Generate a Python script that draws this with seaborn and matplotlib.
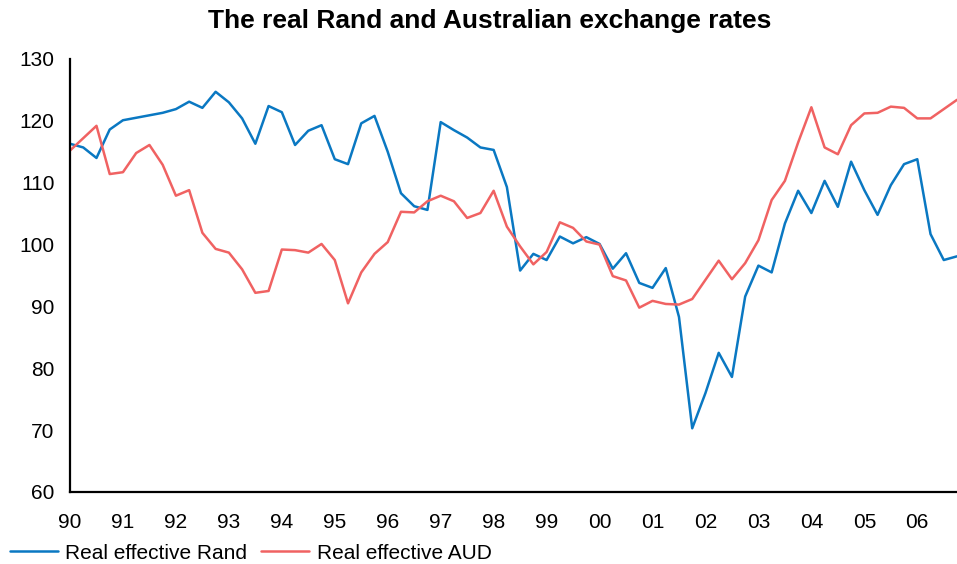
import numpy as np
import pandas as pd
import matplotlib
matplotlib.use("Agg")
import matplotlib.pyplot as plt
import seaborn as sns

# Quarterly observations, 1990 Q1 to 2006 Q4
start_year = 1990
n_quarters = 68

rand_values = [
    116.3, 115.7, 114.0, 118.6, 120.1, 120.5, 120.9, 121.3,
    121.9, 123.1, 122.1, 124.7, 123.0, 120.4, 116.3, 122.4,
    121.4, 116.1, 118.4, 119.3, 113.8, 113.0, 119.6, 120.8,
    115.0, 108.3, 106.2, 105.6, 119.8, 118.5, 117.3, 115.7,
    115.3, 109.3, 95.8, 98.5, 97.5, 101.3, 100.2, 101.2,
    100.1, 96.1, 98.6, 93.8, 93.0, 96.2, 88.3, 70.3,
    76.0, 82.5, 78.6, 91.6, 96.6, 95.5, 103.4, 108.7,
    105.1, 110.3, 106.1, 113.4, 108.8, 104.8, 109.6, 113.0,
    113.8, 101.7, 97.5, 98.1,
]

aud_values = [
    115.2, 117.2, 119.2, 111.4, 111.7, 114.8, 116.1, 112.9,
    107.9, 108.8, 101.9, 99.3, 98.7, 96.0, 92.2, 92.5,
    99.2, 99.1, 98.7, 100.1, 97.5, 90.5, 95.5, 98.5,
    100.4, 105.3, 105.2, 107.0, 107.9, 107.0, 104.3, 105.1,
    108.7, 102.9, 99.7, 96.8, 98.8, 103.6, 102.7, 100.5,
    100.0, 94.9, 94.2, 89.8, 90.9, 90.4, 90.3, 91.2,
    94.3, 97.4, 94.4, 97.0, 100.7, 107.2, 110.3, 116.5,
    122.2, 115.7, 114.6, 119.3, 121.2, 121.3, 122.3, 122.1,
    120.4, 120.4, 121.9, 123.4,
]

series_names = ["Real effective Rand", "Real effective AUD"]
series_colors = ["#0A78C2", "#F06262"]
year_labels = ["90", "91", "92", "93", "94", "95", "96", "97", "98",
               "99", "00", "01", "02", "03", "04", "05", "06"]
y_ticks = [60, 70, 80, 90, 100, 110, 120, 130]

time = start_year + np.arange(n_quarters) / 4.0
df = pd.DataFrame({
    "time": np.concatenate([time, time]),
    "value": rand_values + aud_values,
    "series": [series_names[0]] * n_quarters + [series_names[1]] * n_quarters,
})

sns.set_style("white")
plt.rcParams["font.family"] = ["Liberation Sans", "DejaVu Sans"]
plt.rcParams["text.color"] = "black"

fig = plt.figure(figsize=(9.57, 5.64), dpi=100)
ax = fig.add_axes([70 / 957, 1 - 492 / 564, (957 - 70) / 957, (492 - 59) / 564])

line_w = 1.8
sns.lineplot(data=df, x="time", y="value", hue="series",
             palette=dict(zip(series_names, series_colors)),
             linewidth=line_w, ax=ax, legend=False)

ax.set_xlim(start_year, start_year + (n_quarters - 1) / 4.0)
ax.set_ylim(60, 130)
ax.set_xticks(start_year + np.arange(len(year_labels)))
ax.set_xticklabels(year_labels)
ax.set_yticks(y_ticks)
ax.set_xlabel("")
ax.set_ylabel("")

for side in ["top", "right"]:
    ax.spines[side].set_visible(False)
for side in ["left", "bottom"]:
    ax.spines[side].set_color("black")
    ax.spines[side].set_linewidth(1.6)

ax.tick_params(axis="both", which="major", direction="out", length=5,
               width=1.6, color="black", labelsize=15, labelcolor="black")
ax.tick_params(axis="x", pad=10)
ax.tick_params(axis="y", pad=6)

fig.suptitle("The real Rand and Australian exchange rates",
             fontsize=19, fontweight="bold", color="black",
             x=490 / 957, y=1 - 9 / 564, va="top")

handles = [plt.Line2D([], [], color=c, linewidth=line_w) for c in series_colors]
fig.legend(handles, series_names, loc="lower left",
           bbox_to_anchor=(-0.003, -0.02), ncol=2, frameon=False,
           fontsize=15, handlelength=2.3, handletextpad=0.35,
           columnspacing=0.7, borderaxespad=0.2)

fig.savefig("out.png", dpi=100)
